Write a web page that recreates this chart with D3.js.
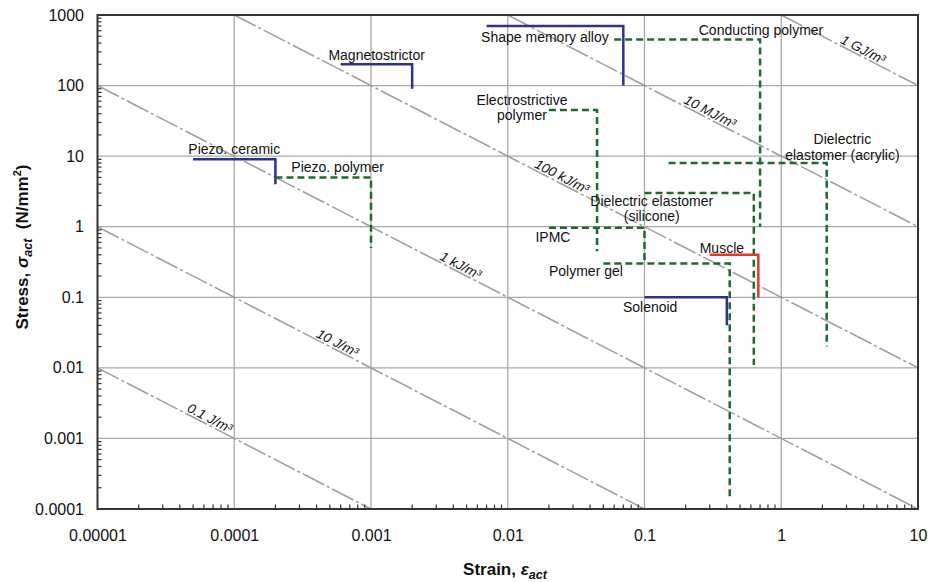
<!DOCTYPE html>
<html>
<head>
<meta charset="utf-8">
<script src="https://cdn.jsdelivr.net/npm/d3@7"></script>
<style>
  body { margin: 0; background: #fff; }
  svg { font-family: "Liberation Sans", Arial, sans-serif; }
</style>
</head>
<body>
<svg id="chart" width="928" height="582"></svg>
<script>
// axis ticks
const xTicks = [1e-5, 1e-4, 1e-3, 1e-2, 1e-1, 1, 10];
const xTickLabels = ['0.00001', '0.0001', '0.001', '0.01', '0.1', '1', '10'];
const yTicks = [1e-4, 1e-3, 1e-2, 1e-1, 1, 10, 100, 1000];
const yTickLabels = ['0.0001', '0.001', '0.01', '0.1', '1', '10', '100', '1000'];

// constant energy density lines, W = stress * strain (N/mm2 = MJ/m3)
const energyValues = [1e-7, 1e-5, 1e-3, 0.1, 10, 1000];
const energyLabels = ['0.1 J/m³', '10 J/m³', '1 kJ/m³', '100 kJ/m³', '10 MJ/m³', '1 GJ/m³'];
const energyLabelStrain = [6.3e-5, 5.4e-4, 4.3e-3, 0.0237, 0.286, 3.77];

// actuators: strain range, max stress, min stress
const actuatorNames = ['Piezo. ceramic', 'Piezo. polymer', 'Magnetostrictor', 'Shape memory alloy',
  'Conducting polymer', 'Electrostrictive polymer', 'Dielectric elastomer (acrylic)',
  'Dielectric elastomer (silicone)', 'IPMC', 'Polymer gel', 'Muscle', 'Solenoid'];
const actuatorKind = ['solid', 'polymer', 'solid', 'solid', 'polymer', 'polymer', 'polymer',
  'polymer', 'polymer', 'polymer', 'muscle', 'solid'];
const strainMin = [5e-5, 2e-4, 6e-4, 0.007, 0.06, 0.02, 0.15, 0.1, 0.02, 0.05, 0.3, 0.1];
const strainMax = [2e-4, 1e-3, 2e-3, 0.07, 0.7, 0.045, 2.15, 0.63, 0.1, 0.42, 0.68, 0.4];
const stressMax = [9, 5, 200, 700, 450, 45, 8, 3, 0.97, 0.3, 0.4, 0.1];
const stressMin = [4, 0.5, 90, 100, 1, 0.45, 0.02, 0.011, 0.3, 0.00015, 0.1, 0.04];

// label text lines and anchor (strain, stress) of label centre
const labelLines = [['Piezo. ceramic'], ['Piezo. polymer'], ['Magnetostrictor'], ['Shape memory alloy'],
  ['Conducting polymer'], ['Electrostrictive', 'polymer'], ['Dielectric', 'elastomer (acrylic)'],
  ['Dielectric elastomer', '(silicone)'], ['IPMC'], ['Polymer gel'], ['Muscle'], ['Solenoid']];
const labelStrain = [1.0e-4, 5.7e-4, 1.1e-3, 0.0187, 0.711, 0.0127, 2.8, 0.113, 0.0214, 0.0373, 0.368, 0.11];
const labelStress = [12.6, 7.0, 271, 488, 613, 49, 13.5, 1.82, 0.72, 0.237, 0.5, 0.073];

const colors = {solid: '#2e3192', polymer: '#1b6b30', muscle: '#e2382e'};

const svg = d3.select('#chart');
const mLeft = 97.5, mRight = 918, mTop = 15, mBottom = 509;

const x = d3.scaleLog().domain([1e-5, 10]).range([mLeft, mRight]);
const y = d3.scaleLog().domain([1e-4, 1000]).range([mBottom, mTop]);

// grid
const grid = svg.append('g').style('stroke', '#a9a9a9').style('stroke-width', 1.3);
grid.selectAll('line.v').data(xTicks.slice(1, -1)).enter().append('line')
    .attr('x1', (d)=>x(d)).attr('x2', (d)=>x(d)).attr('y1', mTop).attr('y2', mBottom);
grid.selectAll('line.h').data(yTicks.slice(1, -1)).enter().append('line')
    .attr('y1', (d)=>y(d)).attr('y2', (d)=>y(d)).attr('x1', mLeft).attr('x2', mRight);

// energy lines
const ang = Math.atan2(y(0.1) - y(1), x(10) - x(1)) * 180 / Math.PI;
const eg = svg.append('g');
energyValues.forEach((w, i)=>{
  const e0 = Math.max(1e-5, w / 1000);
  const e1 = Math.min(10, w / 1e-4);
  eg.append('line')
      .attr('x1', x(e0)).attr('y1', y(w / e0))
      .attr('x2', x(e1)).attr('y2', y(w / e1))
      .style('stroke', '#a0a0a0').style('stroke-width', 1.6)
      .style('stroke-dasharray', '24,3,3,3');
  const le = energyLabelStrain[i];
  eg.append('text')
      .attr('transform', `translate(${x(le)},${y(w / le)}) rotate(${ang})`)
      .attr('y', -7).attr('dy', '0.35em')
      .attr('text-anchor', 'middle')
      .style('font-size', '13.5px').style('font-style', 'italic').style('fill', '#111')
      .text(energyLabels[i]);
});

// actuator L-shapes
const ag = svg.append('g').style('fill', 'none');
actuatorNames.forEach((n, i)=>{
  const k = actuatorKind[i];
  ag.append('path')
      .attr('d', `M${x(strainMin[i])},${y(stressMax[i])}L${x(strainMax[i])},${y(stressMax[i])}L${x(strainMax[i])},${y(stressMin[i])}`)
      .style('stroke', colors[k])
      .style('stroke-width', 2.5)
      .style('stroke-dasharray', k == 'polymer' ? '7,4' : null);
});

// actuator labels
const lg = svg.append('g').style('font-size', '14px').style('fill', '#111');
labelLines.forEach((lines, i)=>{
  const t = lg.append('text')
      .attr('x', x(labelStrain[i]))
      .attr('y', y(labelStress[i]))
      .attr('text-anchor', 'middle');
  lines.forEach((l, li)=>{
    t.append('tspan')
        .attr('x', x(labelStrain[i]))
        .attr('dy', li == 0 ? `${0.35 - (lines.length - 1) * 0.55}em` : '1.1em')
        .text(l);
  });
});

// minor ticks
const minorX = [];
for (let p = -5; p < 1; p++) for (let m = 2; m < 10; m++) minorX.push(m * Math.pow(10, p));
const minorY = [];
for (let p = -4; p < 3; p++) for (let m = 2; m < 10; m++) minorY.push(m * Math.pow(10, p));
const tg = svg.append('g').style('stroke', '#333').style('stroke-width', 1.2);
tg.selectAll('line.mx').data(minorX).enter().append('line')
    .attr('x1', (d)=>x(d)).attr('x2', (d)=>x(d)).attr('y1', mBottom).attr('y2', mBottom - 4.5);
tg.selectAll('line.my').data(minorY).enter().append('line')
    .attr('y1', (d)=>y(d)).attr('y2', (d)=>y(d)).attr('x1', mLeft).attr('x2', mLeft + 4);

// frame
svg.append('rect')
    .attr('x', mLeft).attr('y', mTop).attr('width', mRight - mLeft).attr('height', mBottom - mTop)
    .style('fill', 'none').style('stroke', '#333').style('stroke-width', 2);

// axes labels
const xAxis = d3.axisBottom(x).tickValues(xTicks).tickSize(0).tickPadding(21)
    .tickFormat((d, i)=>xTickLabels[i]);
const yAxis = d3.axisLeft(y).tickValues(yTicks).tickSize(0).tickPadding(13.5)
    .tickFormat((d, i)=>yTickLabels[i]);
const gx = svg.append('g').attr('transform', `translate(0,${mBottom})`).call(xAxis);
const gy = svg.append('g').attr('transform', `translate(${mLeft},0)`).call(yAxis);
[gx, gy].forEach((g)=>{
  g.select('.domain').remove();
  g.selectAll('text').style('font-size', '16px').style('fill', '#111')
      .style('font-family', '"Liberation Sans", Arial, sans-serif');
});

// titles
const xt = svg.append('text')
    .attr('x', 505).attr('y', 575).attr('text-anchor', 'middle')
    .style('font-size', '17px').style('font-weight', 'bold').style('fill', '#111');
xt.append('tspan').text('Strain, ');
xt.append('tspan').style('font-style', 'italic').text('ε');
xt.append('tspan').style('font-style', 'italic').style('font-size', '12.5px').attr('dy', 4).text('act');

const yt = svg.append('text')
    .attr('transform', 'translate(28,247) rotate(-90)').attr('text-anchor', 'middle')
    .style('font-size', '17px').style('font-weight', 'bold').style('fill', '#111');
yt.append('tspan').text('Stress, ');
yt.append('tspan').style('font-style', 'italic').text('σ');
yt.append('tspan').style('font-style', 'italic').style('font-size', '12.5px').attr('dy', 4).text('act');
yt.append('tspan').attr('dy', -4).text('\u00a0\u00a0(N/mm');
yt.append('tspan').style('font-size', '11px').attr('dy', -7).text('2');
yt.append('tspan').attr('dy', 7).text(')');
</script>
</body>
</html>
